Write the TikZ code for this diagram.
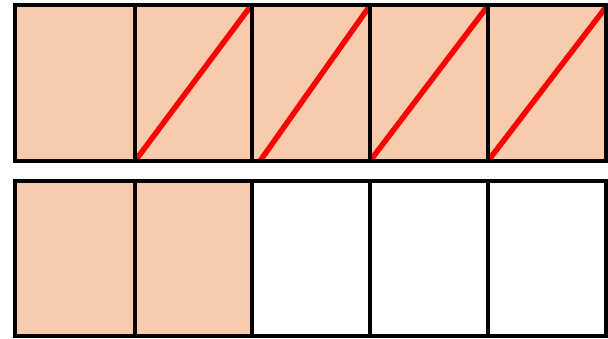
\documentclass[tikz,border=0pt]{standalone}
\definecolor{peach}{HTML}{F8CBAD}
\begin{document}
\begin{tikzpicture}[x=1pt,y=-1pt,
  cell/.style={draw=black,line width=4pt},
  slash/.style={draw=red,line width=5.5pt}]
\useasboundingbox (0,0) rectangle (608,338);
% top row
\fill[peach] (15,5) rectangle (606,161);
\draw[slash] (135,161) -- (250,7);
\draw[slash] (260,161) -- (369,7);
\draw[slash] (370,161) -- (487,7);
\draw[slash] (488,161) -- (606,7);
\foreach \a/\b in {15/134.5,134.5/252,252/370,370/488,488/606}
  \draw[cell] (\a,5) rectangle (\b,161);
% bottom row
\fill[peach] (15,181) rectangle (252,336);
\foreach \a/\b in {15/134.5,134.5/252,252/370,370/488,488/606}
  \draw[cell] (\a,181) rectangle (\b,336);
\end{tikzpicture}
\end{document}
